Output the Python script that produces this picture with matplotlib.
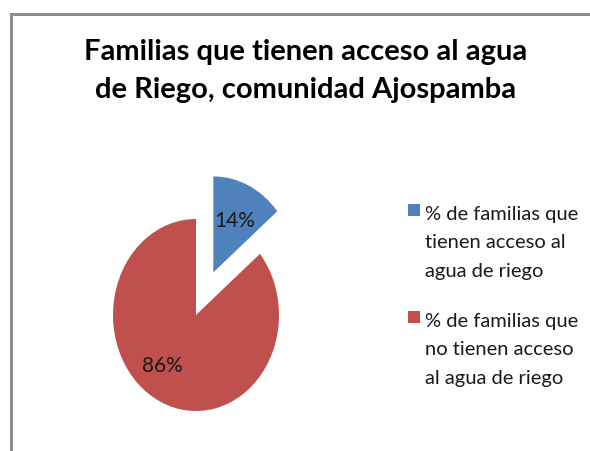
import matplotlib.pyplot as plt
from matplotlib.patches import Rectangle

# data
labels = ['% de familias que\ntienen acceso al\nagua de riego',
          '% de familias que\nno tienen acceso\nal agua de riego']
values = [14, 86]
colors = ['#4f81bd', '#c0504d']
explode = [0.49, 0]
title = 'Familias que tienen acceso al agua\nde Riego, comunidad Ajospamba'

plt.rcParams['font.family'] = ['Lato', 'DejaVu Sans']

W, H = 590, 452
fig = plt.figure(figsize=(W / 100, H / 100), dpi=100)

# chart border (Excel style frame, running off the right/bottom edge)
fig.patches.append(Rectangle((11 / W, -0.05), 1.2, 1 - 15 / H + 0.05,
                             transform=fig.transFigure, fill=False,
                             edgecolor='#8c8c8c', linewidth=2.2))

fig.text(306 / W, 1 - 71 / H, title, ha='center', va='center', fontsize=21,
         fontweight='bold', linespacing=1.6)

# pie is stretched vertically, like the original
ax = fig.add_axes([113 / W, 40 / H, 166 / W, 192 / H])
wedges, texts, autotexts = ax.pie(values, colors=colors, explode=explode,
                                  startangle=90, counterclock=False,
                                  autopct='%1.0f%%', pctdistance=0.6,
                                  textprops={'fontsize': 15, 'color': '#1a1a1a'},
                                  wedgeprops={'linewidth': 0})
for w in wedges:
    w.set_clip_on(False)
ax.set_aspect('auto')
ax.set_xlim(-1, 1)
ax.set_ylim(-1, 1)
ax.axis('off')
autotexts[1].set_position((-0.40, -0.52))

# legend: square key next to the first line of each entry
for i, lab in enumerate(labels):
    top = 205 + i * 107
    fig.patches.append(Rectangle((408 / W, 1 - (top + 12) / H), 12 / W, 12 / H,
                                 transform=fig.transFigure,
                                 facecolor=colors[i], edgecolor='none'))
    fig.text(425 / W, 1 - (top + 1) / H, lab, ha='left', va='top',
             fontsize=14.5, linespacing=1.81, color='#1a1a1a')

plt.savefig('out.png', dpi=100)
